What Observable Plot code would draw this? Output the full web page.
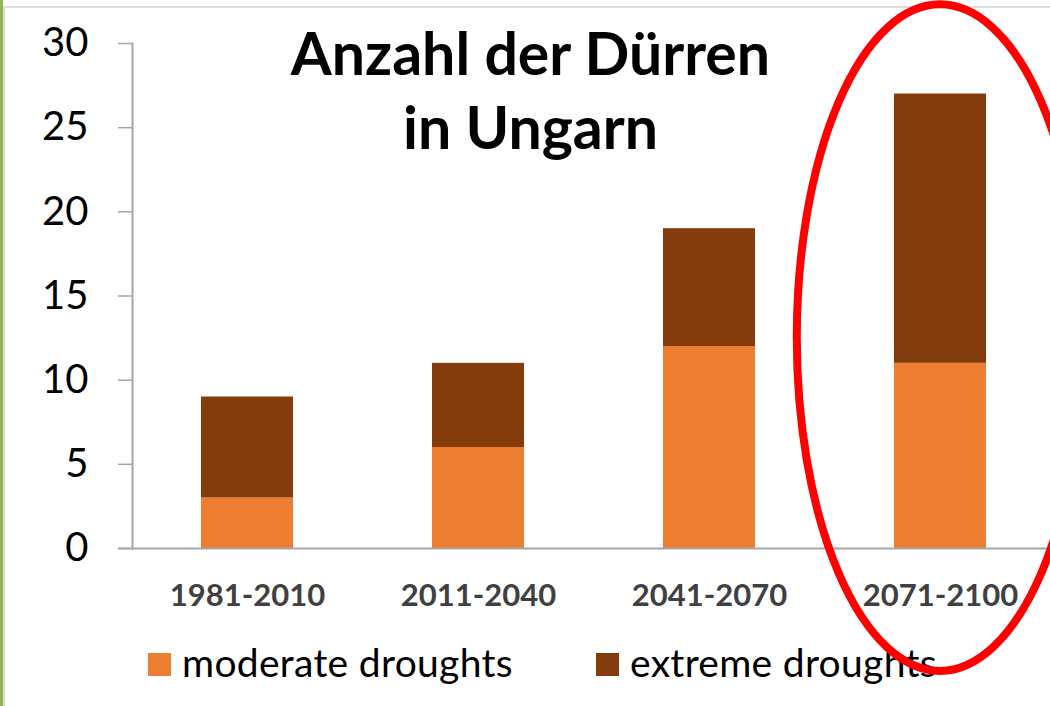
<!DOCTYPE html>
<html><head><meta charset="utf-8">
<script src="https://cdn.jsdelivr.net/npm/d3@7"></script>
<script src="https://cdn.jsdelivr.net/npm/@observablehq/plot@0.6"></script>
<style>
html,body{margin:0;padding:0;background:#fff;}
#page{position:relative;width:1050px;height:706px;overflow:hidden;font-family:Lato,sans-serif;}
#strip{position:absolute;left:0;top:0;width:3px;height:706px;background:#8fb94f;}
#frameL{position:absolute;left:3px;top:6px;width:2px;height:700px;background:#dcdcdc;}
#frameT{position:absolute;left:3px;top:6px;width:1047px;height:2px;background:#dcdcdc;}
#chart{position:absolute;left:0;top:0;z-index:2;}
#legend{position:absolute;left:0;top:630px;width:1050px;height:76px;z-index:1;}
.sw{position:absolute;width:23px;height:23px;top:23px;}
.lt{position:absolute;top:9px;font-size:39px;line-height:1.2;color:#000;white-space:nowrap;letter-spacing:0.3px;}
</style>
</head><body>
<div id="page">
  <div id="strip"></div><div id="frameL"></div><div id="frameT"></div>
  <div id="chart"></div>
  <div id="legend"></div>
</div>
<script>
const periods = ["1981-2010", "2011-2040", "2041-2070", "2071-2100"];
const moderate = [3, 6, 12, 11];
const extreme = [6, 5, 7, 16];
const seriesNames = ["moderate droughts", "extreme droughts"];
const seriesColors = ["#ED7D31", "#843C0C"];
const yTicks = [0, 5, 10, 15, 20, 25, 30];
const titleText = "Anzahl der Dürren\nin Ungarn";
const highlight = "2071-2100";

const rows = [];
periods.forEach((p, i) => {
  rows.push({period: p, type: seriesNames[0], value: moderate[i]});
  rows.push({period: p, type: seriesNames[1], value: extreme[i]});
});

const chart = Plot.plot({
  width: 1050, height: 630,
  marginLeft: 132, marginRight: 0, marginTop: 43, marginBottom: 82,
  style: {fontFamily: "Lato, sans-serif", background: "transparent", overflow: "visible"},
  x: {domain: periods, range: [131, 1056], paddingInner: 0.6, paddingOuter: 0.3, label: null},
  y: {domain: [0, 30], label: null},
  color: {domain: seriesNames, range: seriesColors},
  marks: [
    Plot.barY(rows, {x: "period", y: "value", fill: "type"}),
    Plot.ruleY([0], {stroke: "#a6a6a6", strokeWidth: 2, insetLeft: -14}),
    Plot.frame({anchor: "left", stroke: "#a6a6a6", strokeWidth: 2}),
    Plot.axisY({ticks: yTicks, tickSize: 14, tickPadding: 30, fontSize: 40, stroke: "#a6a6a6", strokeWidth: 1.5, fill: "#000", label: null}),
    Plot.axisX({tickSize: 0, tickPadding: 35, fontSize: 31, fontWeight: "bold", fill: "#404040", label: null}),
    Plot.text([titleText], {text: d => d, frameAnchor: "top", dx: -61, dy: -20, lineAnchor: "top", fontSize: 59, fontWeight: "bold", lineHeight: 1.24, fill: "#000"})
  ]
});

// highlight ellipse around the last period, positioned with the chart's scales
const sx = chart.scale("x"), sy = chart.scale("y");
const cx = sx.apply(highlight) + sx.bandwidth / 2;
const cy = sy.apply(12.5);
const ry = sy.apply(0) - sy.apply(19.8);
const rx = sx.step * 0.62;
d3.select(chart).append("ellipse")
  .attr("cx", cx).attr("cy", cy).attr("rx", rx).attr("ry", ry)
  .attr("fill", "none").attr("stroke", "#FF0000").attr("stroke-width", 8);

document.getElementById("chart").appendChild(chart);

// legend
const legend = d3.select("#legend");
const legendX = [148, 596];
seriesNames.forEach((name, i) => {
  legend.append("div").attr("class", "sw").style("left", legendX[i] + "px").style("background", seriesColors[i]);
  legend.append("div").attr("class", "lt").style("left", (legendX[i] + 34) + "px").text(name);
});
</script>
</body></html>
